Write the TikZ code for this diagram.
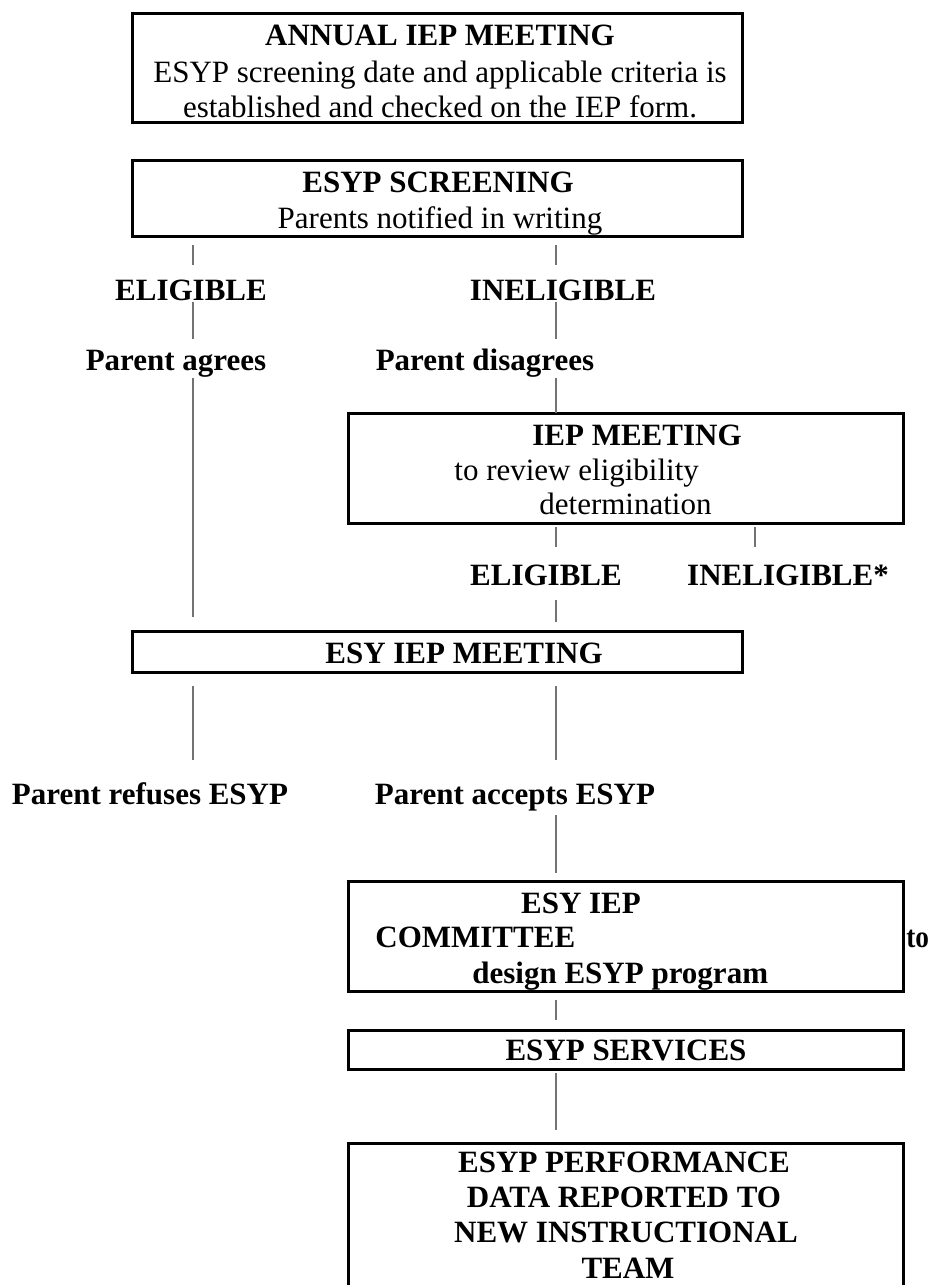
\documentclass[tikz,border=0pt]{standalone}
\usepackage{fontspec}
\setmainfont{Liberation Serif}
\begin{document}
\begin{tikzpicture}[x=0.5pt,y=-0.5pt]
\tikzset{
 box/.style={draw=black, line width=1.5pt, inner sep=0pt},
 conn/.style={draw=black!55, line width=1.3pt},
 bt/.style={font=\fontsize{15.5}{17.5}\selectfont\bfseries, inner sep=0pt, anchor=base},
 rt/.style={font=\fontsize{15.5}{17.5}\selectfont, inner sep=0pt, anchor=base},
}
\useasboundingbox (0,0) rectangle (929,1285);
\clip (0,0) rectangle (929,1285);
\fill[white] (0,0) rectangle (929,1285);

% boxes
\node[box, minimum width=305pt, minimum height=54.5pt] (b1) at (437,67.5) {};
\node[box, minimum width=305pt, minimum height=38pt] (b2) at (437,198) {};
\node[box, minimum width=277.5pt, minimum height=55pt] (b3) at (625.5,468) {};
\node[box, minimum width=305pt, minimum height=20.5pt] (b4) at (437,651.5) {};
\node[box, minimum width=277.5pt, minimum height=55pt] (b5) at (625.5,936) {};
\node[box, minimum width=277.5pt, minimum height=19.5pt] (b6) at (625.5,1049.5) {};
\node[box, minimum width=277.5pt, minimum height=88.5pt] (b7) at (625.5,1231.5) {};

% box texts
\node[bt] (t1a) at (440,45) {ANNUAL IEP MEETING};
\node[rt] (t1b) at (440,82) {ESYP screening date and applicable criteria is};
\node[rt] (t1c) at (440,117) {established and checked on the IEP form.};
\node[bt] (t2a) at (438,192) {ESYP SCREENING};
\node[rt] (t2b) at (440,228) {Parents notified in writing};
\node[bt] (t3a) at (637,445) {IEP MEETING};
\node[rt, anchor=base west] (t3b) at (454,480) {to review eligibility};
\node[rt, anchor=base west] (t3c) at (539,514) {determination};
\node[bt] (t4) at (464,663) {ESY IEP MEETING};
\node[bt] (t5a) at (581,913) {ESY IEP};
\node[bt, anchor=base west] (t5b) at (375,947) {COMMITTEE};
\node[bt, anchor=base west, xscale=0.88] (t5c) at (906,947) {to};
\node[bt, anchor=base west] (t5d) at (472,983) {design ESYP program};
\node[bt] (t6) at (626,1060) {ESYP SERVICES};
\node[bt] (t7a) at (624,1172) {ESYP PERFORMANCE};
\node[bt] (t7b) at (624,1207) {DATA REPORTED TO};
\node[bt] (t7c) at (626,1242) {NEW INSTRUCTIONAL};
\node[bt] (t7d) at (628,1278) {TEAM};

% labels
\node[bt] (elig1) at (191,300) {ELIGIBLE};
\node[bt] (inel1) at (563,300) {INELIGIBLE};
\node[bt] (agree) at (176,370) {Parent agrees};
\node[bt] (disag) at (485,370) {Parent disagrees};
\node[bt] (elig2) at (546,585) {ELIGIBLE};
\node[bt] (inel2) at (788,585) {INELIGIBLE*};
\node[bt] (refuse) at (150,804) {Parent refuses ESYP};
\node[bt] (accept) at (515,804) {Parent accepts ESYP};

% connector end points
\coordinate (L1a) at (193,245); \coordinate (L1b) at (193,265);
\coordinate (L2a) at (193,302); \coordinate (L2b) at (193,339);
\coordinate (L3a) at (193,378); \coordinate (L3b) at (193,617);
\coordinate (L4a) at (193,686); \coordinate (L4b) at (193,760);
\coordinate (R1a) at (556,245); \coordinate (R1b) at (556,265);
\coordinate (R2a) at (556,302); \coordinate (R2b) at (556,339);
\coordinate (R3a) at (556,378); \coordinate (R3b) at (556,413);
\coordinate (R4a) at (556,527); \coordinate (R4b) at (556,547);
\coordinate (R5a) at (556,600); \coordinate (R5b) at (556,622);
\coordinate (R6a) at (556,686); \coordinate (R6b) at (556,760);
\coordinate (R7a) at (556,815); \coordinate (R7b) at (556,873);
\coordinate (R8a) at (556,1000); \coordinate (R8b) at (556,1020);
\coordinate (R9a) at (556,1073); \coordinate (R9b) at (556,1130);
\coordinate (Q1a) at (755,527); \coordinate (Q1b) at (755,547);

\foreach \s in {L1,L2,L3,L4,R1,R2,R3,R4,R5,R6,R7,R8,R9,Q1}
  \draw[conn] (\s a) -- (\s b);
\end{tikzpicture}
\end{document}
